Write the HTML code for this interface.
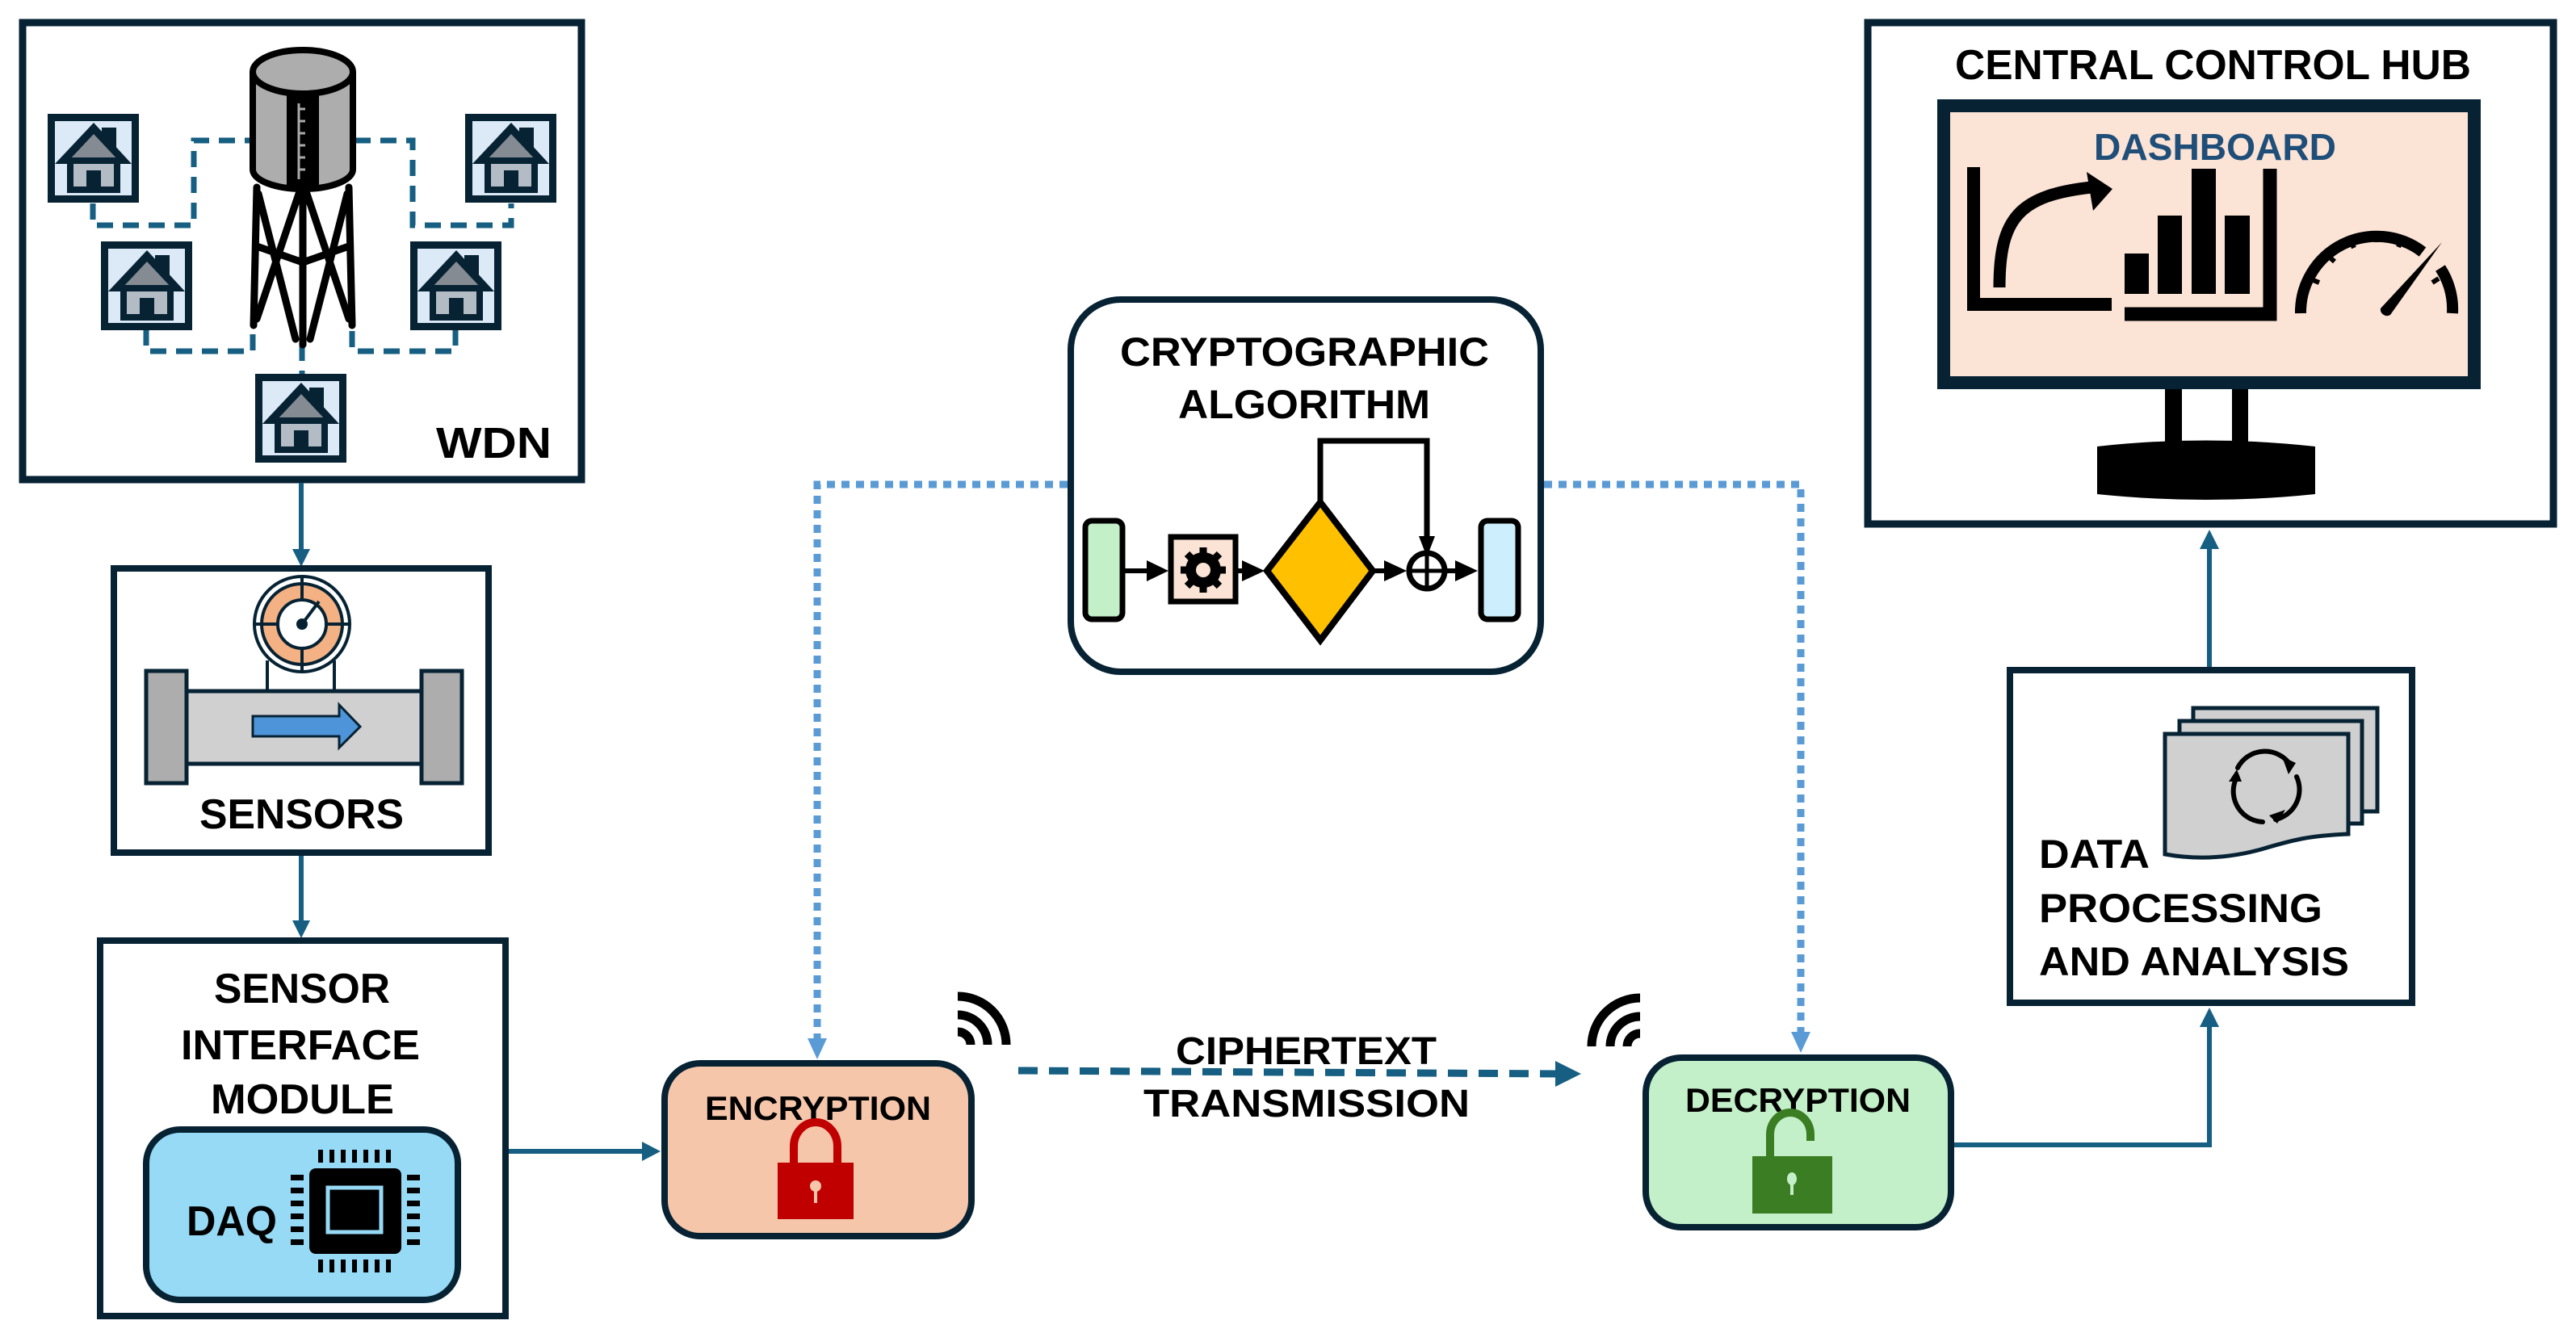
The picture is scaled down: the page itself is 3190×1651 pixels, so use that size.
<!DOCTYPE html>
<html><head><meta charset="utf-8"><style>
html,body{margin:0;padding:0;background:#fff;}
svg{display:block;}
text{font-family:"Liberation Sans",sans-serif;font-weight:bold;}
</style></head><body>
<svg width="3190" height="1651" viewBox="0 0 3190 1651" xmlns="http://www.w3.org/2000/svg">
<defs>
<g id="house">
  <rect x="4.5" y="4.5" width="104" height="101" fill="#dce9f6" stroke="#062233" stroke-width="9"/>
  <rect x="67" y="17" width="18" height="30" fill="#062233"/>
  <polygon points="57,11 104,62 9,62" fill="#062233"/>
  <polygon points="57,25 88,58 26,58" fill="#858b92"/>
  <rect x="28" y="58" width="58" height="36" fill="#b3bcc5" stroke="#062233" stroke-width="8"/>
  <rect x="48" y="70" width="18" height="22" fill="#062233"/>
</g>
<g id="wifi" fill="none" stroke="#000" stroke-width="11">
  <path d="M0,-16 A16,16 0 0 1 16,0"/>
  <path d="M0,-37 A37,37 0 0 1 37,0"/>
  <path d="M0,-60 A60,60 0 0 1 60,0"/>
</g>
</defs>

<!-- WDN -->
<rect x="28" y="28" width="692" height="566" fill="#fff" stroke="#062233" stroke-width="9"/>
<g fill="none" stroke="#165f82" stroke-width="7" stroke-dasharray="20 12">
  <polyline points="115,252 115,279 240,279 240,174 313,174"/>
  <polyline points="439,174 511,174 511,279 633,279 633,252"/>
  <polyline points="181,408 181,435 313,435 313,400"/>
  <polyline points="564,408 564,435 436,435 436,400"/>
  <line x1="374" y1="427" x2="374" y2="463"/>
</g>
<use href="#house" x="59" y="141"/>
<use href="#house" x="125" y="299"/>
<use href="#house" x="316" y="463"/>
<use href="#house" x="576" y="141"/>
<use href="#house" x="508" y="299"/>
<!-- tower -->
<g stroke="#000" stroke-width="9" fill="none" stroke-linecap="round">
  <line x1="318" y1="232" x2="314" y2="403"/>
  <line x1="432" y1="232" x2="436" y2="403"/>
  <line x1="375" y1="237" x2="375" y2="427"/>
  <line x1="320" y1="240" x2="366" y2="420"/>
  <line x1="430" y1="240" x2="384" y2="420"/>
  <line x1="370" y1="240" x2="318" y2="395"/>
  <line x1="380" y1="240" x2="432" y2="395"/>
  <polyline points="318,305 375,325 432,305"/>
</g>
<path d="M313,89 L313,210 A62,24 0 0 0 437,210 L437,89" fill="#adadad" stroke="#000" stroke-width="8"/>
<ellipse cx="375" cy="89" rx="62" ry="27" fill="#adadad" stroke="#000" stroke-width="8"/>
<rect x="355" y="112" width="40" height="124" fill="#000"/>
<g stroke="#aaa" stroke-width="3"><line x1="370" y1="128" x2="370" y2="222"/>
<line x1="370" y1="135" x2="378" y2="135"/><line x1="370" y1="150" x2="378" y2="150"/><line x1="370" y1="165" x2="378" y2="165"/><line x1="370" y1="180" x2="378" y2="180"/><line x1="370" y1="195" x2="378" y2="195"/><line x1="370" y1="210" x2="378" y2="210"/></g>
<text x="540" y="567" font-size="54" textLength="143" lengthAdjust="spacingAndGlyphs">WDN</text>

<!-- arrows left column -->
<g stroke="#165f82" stroke-width="6" fill="#165f82">
  <line x1="373" y1="598" x2="373" y2="682"/>
  <polygon points="362,680 384,680 373,702" stroke="none"/>
  <line x1="373" y1="1059" x2="373" y2="1142"/>
  <polygon points="362,1140 384,1140 373,1162" stroke="none"/>
  <line x1="626" y1="1426" x2="797" y2="1426"/>
  <polygon points="795,1414 795,1438 818,1426" stroke="none"/>
</g>

<!-- Sensors -->
<rect x="141" y="704" width="464" height="352" fill="#fff" stroke="#062233" stroke-width="8"/>
<line x1="331" y1="818" x2="331" y2="858" stroke="#062233" stroke-width="4"/>
<line x1="414" y1="818" x2="414" y2="858" stroke="#062233" stroke-width="4"/>
<rect x="229" y="856" width="293" height="90" fill="#d0d0d0" stroke="#062233" stroke-width="5"/>
<rect x="181" y="831" width="50" height="139" fill="#adadad" stroke="#062233" stroke-width="5"/>
<rect x="522" y="831" width="50" height="139" fill="#adadad" stroke="#062233" stroke-width="5"/>
<polygon points="313,887 420,887 420,873 446,900 420,926 420,912 313,912" fill="#4e94d8" stroke="#062233" stroke-width="3"/>
<circle cx="374" cy="773" r="59" fill="#fff" stroke="#062233" stroke-width="4"/>
<circle cx="374" cy="773" r="50" fill="#f4b183" stroke="#062233" stroke-width="4"/>
<circle cx="374" cy="773" r="30" fill="#fff" stroke="#062233" stroke-width="4"/>
<g stroke="#062233" stroke-width="4"><line x1="374" y1="714" x2="374" y2="743"/><line x1="374" y1="803" x2="374" y2="832"/><line x1="315" y1="773" x2="344" y2="773"/><line x1="404" y1="773" x2="433" y2="773"/><line x1="374" y1="773" x2="395" y2="745"/></g>
<circle cx="374" cy="773" r="7" fill="#062233"/>
<text x="247" y="1026" font-size="52" textLength="253" lengthAdjust="spacingAndGlyphs">SENSORS</text>

<!-- SIM -->
<rect x="124" y="1165" width="502" height="465" fill="#fff" stroke="#062233" stroke-width="8"/>
<text x="265" y="1242" font-size="52" textLength="218" lengthAdjust="spacingAndGlyphs">SENSOR</text>
<text x="224" y="1312" font-size="52" textLength="296" lengthAdjust="spacingAndGlyphs">INTERFACE</text>
<text x="261" y="1379" font-size="52" textLength="227" lengthAdjust="spacingAndGlyphs">MODULE</text>
<rect x="181" y="1399" width="386" height="211" rx="42" fill="#97daf6" stroke="#062233" stroke-width="8"/>
<text x="231" y="1530" font-size="52" textLength="112" lengthAdjust="spacingAndGlyphs">DAQ</text>
<rect x="383" y="1447" width="114" height="106" rx="8" fill="#000"/>
<rect x="406" y="1471" width="66" height="55" fill="#000" stroke="#97daf6" stroke-width="5"/>
<g fill="#000">
  <rect x="394" y="1424" width="6" height="16"/><rect x="408" y="1424" width="6" height="16"/><rect x="422" y="1424" width="6" height="16"/><rect x="436" y="1424" width="6" height="16"/><rect x="450" y="1424" width="6" height="16"/><rect x="464" y="1424" width="6" height="16"/><rect x="478" y="1424" width="6" height="16"/>
  <rect x="394" y="1560" width="6" height="16"/><rect x="408" y="1560" width="6" height="16"/><rect x="422" y="1560" width="6" height="16"/><rect x="436" y="1560" width="6" height="16"/><rect x="450" y="1560" width="6" height="16"/><rect x="464" y="1560" width="6" height="16"/><rect x="478" y="1560" width="6" height="16"/>
  <rect x="360" y="1455" width="16" height="7"/><rect x="360" y="1471" width="16" height="7"/><rect x="360" y="1487" width="16" height="7"/><rect x="360" y="1503" width="16" height="7"/><rect x="360" y="1519" width="16" height="7"/><rect x="360" y="1535" width="16" height="7"/>
  <rect x="504" y="1455" width="16" height="7"/><rect x="504" y="1471" width="16" height="7"/><rect x="504" y="1487" width="16" height="7"/><rect x="504" y="1503" width="16" height="7"/><rect x="504" y="1519" width="16" height="7"/><rect x="504" y="1535" width="16" height="7"/>
</g>

<!-- Crypto box -->
<g fill="none" stroke="#5b9bd5" stroke-width="9" stroke-dasharray="10 8">
  <polyline points="1322,600 1012,600 1012,1290"/>
  <polyline points="1912,600 2230,600 2230,1282"/>
</g>
<polygon points="1000,1286 1024,1286 1012,1312" fill="#5b9bd5"/>
<polygon points="2218,1278 2242,1278 2230,1304" fill="#5b9bd5"/>
<rect x="1326" y="371" width="582" height="461" rx="62" fill="#fff" stroke="#062233" stroke-width="8"/>
<text x="1387" y="453" font-size="50" textLength="457" lengthAdjust="spacingAndGlyphs">CRYPTOGRAPHIC</text>
<text x="1459" y="518" font-size="50" textLength="312" lengthAdjust="spacingAndGlyphs">ALGORITHM</text>
<polyline points="1635,622 1635,546 1767,546 1767,668" fill="none" stroke="#000" stroke-width="7"/>
<polygon points="1757,664 1777,664 1767,690" fill="#000"/>
<g stroke="#000" stroke-width="6">
  <line x1="1390" y1="707" x2="1430" y2="707"/><line x1="1532" y1="707" x2="1550" y2="707"/><line x1="1702" y1="707" x2="1725" y2="707"/><line x1="1791" y1="707" x2="1815" y2="707"/>
</g>
<g fill="#000">
  <polygon points="1420,694 1420,720 1447,707"/>
  <polygon points="1538,694 1538,720 1566,707"/>
  <polygon points="1714,694 1714,720 1742,707"/>
  <polygon points="1802,694 1802,720 1830,707"/>
</g>
<rect x="1344" y="645" width="46" height="122" rx="8" fill="#c3f0c8" stroke="#000" stroke-width="7"/>
<rect x="1450" y="665" width="80" height="80" fill="#fbe3d6" stroke="#000" stroke-width="7"/>
<circle cx="1490" cy="706" r="22" fill="#000"/>
<g stroke="#000" stroke-width="9"><line x1="1490" y1="678" x2="1490" y2="734"/><line x1="1462" y1="706" x2="1518" y2="706"/><line x1="1470" y1="686" x2="1510" y2="726"/><line x1="1510" y1="686" x2="1470" y2="726"/></g>
<circle cx="1490" cy="706" r="9" fill="#fbe3d6"/>
<polygon points="1635,622 1700,707 1635,793 1569,707" fill="#ffc000" stroke="#000" stroke-width="8"/>
<circle cx="1767" cy="707" r="22" fill="#fff" stroke="#000" stroke-width="7"/>
<line x1="1745" y1="707" x2="1789" y2="707" stroke="#000" stroke-width="5"/>
<line x1="1767" y1="685" x2="1767" y2="729" stroke="#000" stroke-width="5"/>
<rect x="1834" y="645" width="46" height="122" rx="8" fill="#cdeefc" stroke="#000" stroke-width="7"/>

<!-- Encryption -->
<rect x="823" y="1317" width="380" height="214" rx="44" fill="#f5c6aa" stroke="#062233" stroke-width="8"/>
<text x="873" y="1387" font-size="42" textLength="280" lengthAdjust="spacingAndGlyphs">ENCRYPTION</text>
<path d="M983,1442 L983,1420 A27,30 0 0 1 1037,1420 L1037,1442" fill="none" stroke="#c00000" stroke-width="10"/>
<rect x="963" y="1440" width="94" height="70" fill="#c00000"/>
<circle cx="1010" cy="1469" r="7" fill="#f5c6aa"/>
<rect x="1008" y="1470" width="4" height="20" fill="#f5c6aa"/>

<!-- cipher -->
<use href="#wifi" x="1186" y="1294"/>
<g transform="translate(2031,1296) scale(-1,1)"><use href="#wifi"/></g>
<line x1="1261" y1="1326" x2="1930" y2="1330" stroke="#165f82" stroke-width="9" stroke-dasharray="24 14"/>
<polygon points="1926,1314 1926,1346 1958,1330" fill="#165f82"/>
<text x="1456" y="1318" font-size="48" textLength="323" lengthAdjust="spacingAndGlyphs">CIPHERTEXT</text>
<text x="1416" y="1383" font-size="48" textLength="404" lengthAdjust="spacingAndGlyphs">TRANSMISSION</text>

<!-- Decryption -->
<rect x="2038" y="1310" width="378" height="210" rx="44" fill="#c3f0c8" stroke="#062233" stroke-width="8"/>
<text x="2087" y="1377" font-size="42" textLength="279" lengthAdjust="spacingAndGlyphs">DECRYPTION</text>
<path d="M2192,1434 L2192,1405 A25,27 0 0 1 2242,1405 L2242,1413" fill="none" stroke="#3b7d23" stroke-width="10"/>
<rect x="2170" y="1432" width="99" height="71" fill="#3b7d23"/>
<ellipse cx="2219" cy="1460" rx="6" ry="8" fill="#c3f0c8"/>
<rect x="2217" y="1462" width="4" height="18" fill="#c3f0c8"/>

<!-- right connectors -->
<g stroke="#165f82" stroke-width="6" fill="none">
  <polyline points="2420,1418 2736,1418 2736,1270"/>
  <line x1="2736" y1="826" x2="2736" y2="678"/>
</g>
<polygon points="2724,1272 2748,1272 2736,1248" fill="#165f82"/>
<polygon points="2724,680 2748,680 2736,656" fill="#165f82"/>

<!-- Data processing -->
<rect x="2489" y="830" width="498" height="412" fill="#fff" stroke="#062233" stroke-width="8"/>
<rect x="2716" y="877" width="228" height="128" fill="#d0d0d0" stroke="#062233" stroke-width="5"/>
<rect x="2699" y="893" width="226" height="127" fill="#d0d0d0" stroke="#062233" stroke-width="5"/>
<path d="M2681,909 L2908,909 L2908,1033 C2860,1035 2840,1040 2800,1052 C2760,1063 2720,1065 2681,1058 Z" fill="#d0d0d0" stroke="#062233" stroke-width="5"/>
<g fill="none" stroke="#000" stroke-width="6" stroke-linecap="round">
  <path d="M2771,951 A38,38 0 0 1 2836,947"/>
  <path d="M2844,962 A38,38 0 0 1 2818,1015"/>
  <path d="M2802,1018 A38,38 0 0 1 2768,967"/>
</g>
<g fill="#000"><polygon points="2826,937 2843,945 2834,959"/><polygon points="2830,1003 2820,1020 2810,1010"/><polygon points="2760,968 2770,953 2776,968"/></g>
<text x="2525" y="1075" font-size="50" textLength="137" lengthAdjust="spacingAndGlyphs">DATA</text>
<text x="2525" y="1142" font-size="50" textLength="351" lengthAdjust="spacingAndGlyphs">PROCESSING</text>
<text x="2525" y="1208" font-size="50" textLength="384" lengthAdjust="spacingAndGlyphs">AND ANALYSIS</text>

<!-- Hub -->
<rect x="2313" y="28" width="849" height="621" fill="#fff" stroke="#062233" stroke-width="9"/>
<text x="2421" y="98" font-size="52" textLength="639" lengthAdjust="spacingAndGlyphs">CENTRAL CONTROL HUB</text>
<rect x="2407" y="131" width="657" height="343" fill="#fbe3d6" stroke="#062233" stroke-width="16"/>
<rect x="2681" y="482" width="21" height="70" fill="#000"/>
<rect x="2764" y="482" width="20" height="70" fill="#000"/>
<path d="M2597,553 Q2732,538 2867,553 L2867,612 Q2732,626 2597,612 Z" fill="#000"/>
<text x="2593" y="198" font-size="46" fill="#1f4e79" textLength="300" lengthAdjust="spacingAndGlyphs">DASHBOARD</text>
<polyline points="2444,207 2444,377 2615,377" fill="none" stroke="#000" stroke-width="16"/>
<path d="M2476,356 C2476,270 2500,242 2590,232" fill="none" stroke="#000" stroke-width="15"/>
<polygon points="2584,213 2616,234 2592,261" fill="#000"/>
<g fill="#000">
  <rect x="2631" y="314" width="30" height="50"/>
  <rect x="2672" y="267" width="30" height="97"/>
  <rect x="2714" y="209" width="30" height="155"/>
  <rect x="2755" y="267" width="31" height="97"/>
</g>
<polyline points="2631,389 2811,389 2811,209" fill="none" stroke="#000" stroke-width="17"/>
<path d="M2849,388 A94,94 0 0 1 3000,312" fill="none" stroke="#000" stroke-width="14"/>
<path d="M3022,332 A94,94 0 0 1 3037,388" fill="none" stroke="#000" stroke-width="14"/>
<g stroke="#000" stroke-width="6"><line x1="2862" y1="346" x2="2872" y2="350"/><line x1="2883" y1="317" x2="2891" y2="324"/><line x1="2911" y1="298" x2="2915" y2="307"/><line x1="2943" y1="290" x2="2943" y2="300"/><line x1="2974" y1="296" x2="2970" y2="306"/><line x1="3020" y1="345" x2="3012" y2="350"/></g>
<path d="M3024,300 L2948,382 A8,8 0 0 0 2960,390 Z" fill="#000"/>
</svg>
</body></html>
